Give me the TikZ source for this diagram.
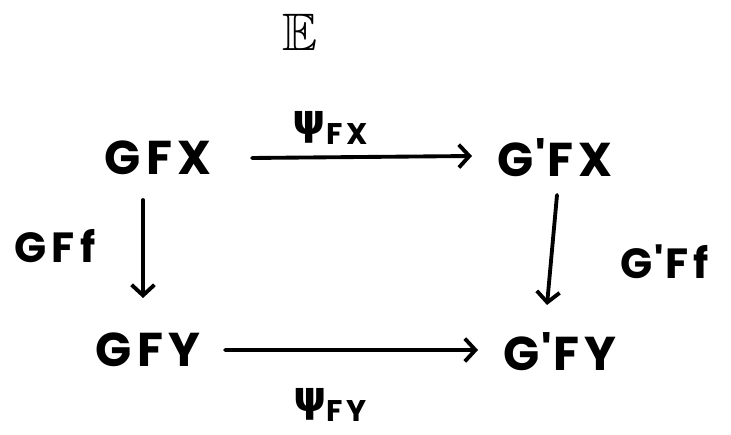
\documentclass[tikz,border=0pt]{standalone}
\usepackage{amsmath, amssymb, bm}
\usepackage{fontspec}
\setmainfont{Poppins}[LetterSpace=12]
\newfontfamily\grk{DejaVu Sans}
\usepackage{tikz}
\usetikzlibrary{calc, arrows.meta}

\tikzset{
    obj/.style={font=\fontsize{27}{30}\selectfont\bfseries, inner sep=2pt},
    lab/.style={font=\fontsize{24}{28}\selectfont\bfseries, inner sep=2pt},
    map/.style={->, line width=2.2pt, line cap=round}
}
\newcommand{\psilab}[1]{{\grk\bfseries ψ}\raisebox{-0.45ex}{\fontsize{17}{20}\selectfont #1}}
\newcommand{\pr}{\kern1pt\textquotesingle\kern1pt}

\begin{document}
\begin{tikzpicture}[>={Straight Barb[length=6pt,width=13pt]}]
    \useasboundingbox (0,0) rectangle (14.62,8.7);
    % Categoria
    \node[font=\fontsize{30}{32}\selectfont] (cat) at (6.0,8.05) {$\bm{\mathbb{E}}$};
    % Oggetti
    \node[obj] (gfx) at (3.16,5.54) {GFX};
    \node[obj] (hfx) at (11.1,5.54) {G\pr FX};
    \node[obj] (gfy) at (2.96,1.70) {GFY};
    \node[obj] (hfy) at (11.2,1.66) {G\pr FY};
    % Frecce
    \draw[map] ($(gfx)+(1.88,0)$) -- ($(hfx)+(-1.66,0.04)$);
    \draw[map] ($(gfy)+(1.54,0)$) -- ($(hfy)+(-1.64,0.04)$);
    \draw[map] ($(gfx)+(-0.3,-0.84)$) -- ($(gfy)+(-0.1,1.04)$);
    \draw[map] ($(hfx)+(0.04,-0.74)$) -- ($(hfy)+(-0.26,0.94)$);
    % Etichette
    \node[lab] (psx) at (6.6,6.14) {\psilab{FX}};
    \node[lab] (psy) at (6.6,0.60) {\psilab{FY}};
    \node[lab] (gff) at (1.1,3.78) {GFf};
    \node[lab] (hff) at (13.3,3.46) {G\pr Ff};
\end{tikzpicture}
\end{document}
